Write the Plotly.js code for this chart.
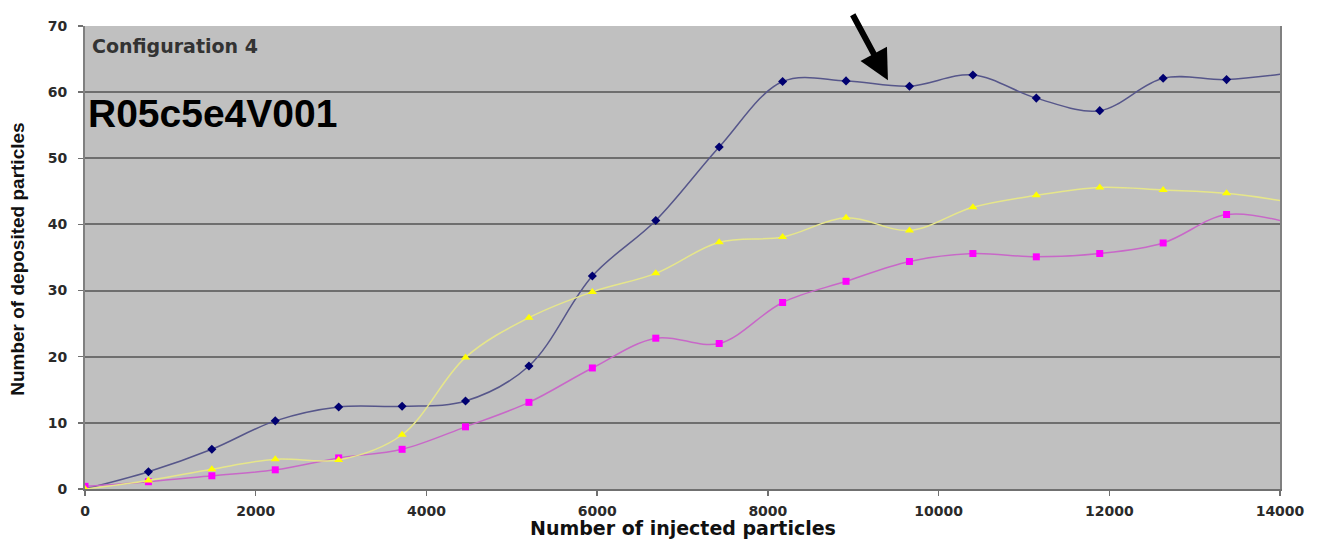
<!DOCTYPE html>
<html>
<head>
<meta charset="utf-8">
<script src="https://cdn.plot.ly/plotly-3.0.1.min.js"></script>
<style>html,body{margin:0;padding:0;background:#fff;}#chart{width:1322px;height:541px;}</style>
</head>
<body>
<div id="chart"></div>
<script>
// Number of injected particles (sample positions)
const injected = [0, 743, 1486, 2229, 2972, 3715, 4458, 5201, 5944, 6687, 7430, 8173, 8916, 9659, 10402, 11145, 11888, 12631, 13374, 14117];
// Series values (number of deposited particles)
const seriesBlue    = [0, 2.6, 6.0, 10.3, 12.4, 12.5, 13.3, 18.6, 32.2, 40.6, 51.7, 61.6, 61.7, 60.9, 62.6, 59.1, 57.2, 62.1, 61.9, 62.9];
const seriesMagenta = [0.4, 1.1, 2.0, 2.9, 4.7, 6.0, 9.4, 13.1, 18.3, 22.8, 22.0, 28.2, 31.4, 34.4, 35.6, 35.1, 35.6, 37.2, 41.5, 40.2];
const seriesYellow  = [0, 1.3, 3.0, 4.5, 4.4, 8.2, 19.9, 25.9, 29.8, 32.6, 37.3, 38.1, 41.0, 39.1, 42.6, 44.4, 45.6, 45.2, 44.7, 43.4];
const xTicks = [0, 2000, 4000, 6000, 8000, 10000, 12000, 14000];
const yTicks = [0, 10, 20, 30, 40, 50, 60, 70];
const configLabel = 'Configuration 4';
const runLabel = 'R05c5e4V001';
const xTitle = 'Number of injected particles';
const yTitle = 'Number of deposited particles';

const traces = [
  {x: injected, y: seriesBlue, mode: 'lines+markers', type: 'scatter',
   line: {shape: 'spline', smoothing: 1, color: '#56568a', width: 1.5},
   marker: {symbol: 'diamond', size: 7, color: '#000070'}},
  {x: injected, y: seriesMagenta, mode: 'lines+markers', type: 'scatter',
   line: {shape: 'spline', smoothing: 1, color: '#c868c8', width: 1.5},
   marker: {symbol: 'square', size: 7, color: '#ff00ff'}},
  {x: injected, y: seriesYellow, mode: 'lines+markers', type: 'scatter',
   line: {shape: 'spline', smoothing: 1, color: '#e6e68a', width: 1.5},
   marker: {symbol: 'triangle-up', size: 8, color: '#ffff00'}}
];

const tickFont = {family: 'DejaVu Sans', size: 14, color: '#2a2a2a', weight: 'bold'};

const layout = {
  width: 1322, height: 541,
  margin: {l: 85, r: 42, t: 26, b: 52},
  paper_bgcolor: '#ffffff',
  plot_bgcolor: '#c0c0c0',
  showlegend: false,
  xaxis: {
    range: [0, 14000], tickvals: xTicks, ticktext: xTicks.map(String),
    showgrid: false, zeroline: false,
    showline: true, linecolor: '#707070', linewidth: 2,
    ticks: 'outside', ticklen: 5, tickcolor: '#707070', tickwidth: 1.5,
    tickfont: tickFont, ticklabelstandoff: 3
  },
  yaxis: {
    range: [0, 70], tickvals: yTicks, ticktext: yTicks.map(String),
    showgrid: true, gridcolor: '#6e6e6e', gridwidth: 2, zeroline: false,
    showline: true, linecolor: '#808080', linewidth: 2, mirror: true,
    ticks: 'outside', ticklen: 5, tickcolor: '#707070', tickwidth: 1.5,
    tickfont: tickFont, ticklabelstandoff: 8
  },
  annotations: [
    {text: configLabel, xref: 'paper', yref: 'paper', x: 0, y: 1, xanchor: 'left', yanchor: 'middle',
     xshift: 5, yshift: -20, showarrow: false,
     font: {family: 'DejaVu Sans', size: 19, color: '#333333', weight: 'bold'}},
    {text: runLabel, xref: 'paper', yref: 'paper', x: 0, y: 1, xanchor: 'left', yanchor: 'middle',
     xshift: 1, yshift: -87, showarrow: false,
     font: {family: 'Liberation Sans', size: 39, color: '#000000', weight: 'bold'}},
    {text: xTitle, xref: 'paper', yref: 'paper', x: 0.5, y: 0, xanchor: 'center', yanchor: 'middle',
     yshift: -39, showarrow: false,
     font: {family: 'DejaVu Sans', size: 19, color: '#111111', weight: 'bold'}},
    {text: yTitle, xref: 'paper', yref: 'paper', x: 0, y: 0.495, xanchor: 'center', yanchor: 'middle',
     xshift: -67, textangle: -90, showarrow: false,
     font: {family: 'Liberation Sans', size: 19, color: '#111111', weight: 'bold'}},
    {text: '', x: 9407, y: 61.8, xref: 'x', yref: 'y', showarrow: true,
     ax: -36, ay: -67, arrowhead: 2, arrowsize: 1, arrowwidth: 6, arrowcolor: '#000000', standoff: 0}
  ]
};

Plotly.newPlot('chart', traces, layout, {displayModeBar: false, staticPlot: true});
</script>
</body>
</html>
